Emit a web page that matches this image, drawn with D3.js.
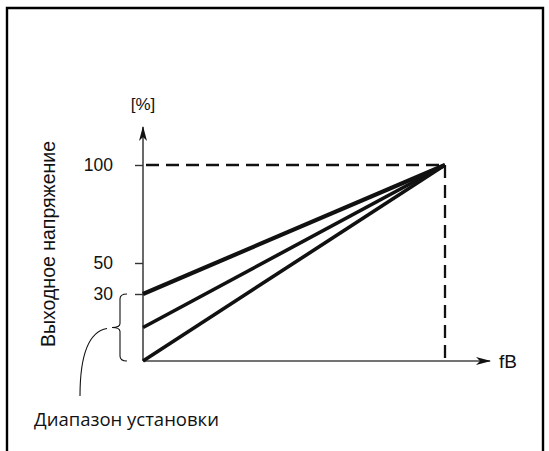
<!DOCTYPE html>
<html>
<head>
<meta charset="utf-8">
<script src="https://cdn.jsdelivr.net/npm/d3@7"></script>
<style>
  html, body { margin: 0; padding: 0; background: #fff; }
  svg { display: block; }
</style>
</head>
<body>
<svg id="chart" width="549" height="451"></svg>
<script>
// ---- data ----
const startLevels = [30, 15, 0];          // output voltage at f = 0 (%), setting range
const endLevel = 100;                     // output voltage at base frequency fB (%)
const freqPoints = [0, 1];                // 0 .. fB (relative)
const yTickValues = [30, 50, 100];
const yTickLabels = ["30", "50", "100"];
const yTitle = "Выходное напряжение";
const yUnit = "[%]";
const xTitle = "fB";
const rangeLabel = "Диапазон установки";

// ---- layout ----
const svg = d3.select("#chart");
const x0 = 143, xEnd = 445, xArrow = 490;
const yBase = 361, yArrow = 127;
const sans = "'Liberation Sans', Arial, Helvetica, sans-serif";

const x = d3.scaleLinear().domain([0, 1]).range([x0, xEnd]);
// schematic (non-uniform) vertical scale, as in the original drawing
const y = d3.scaleLinear().domain([0, 30, 50, 100]).range([yBase, 294, 263, 165]);

// frame
svg.append("path")
  .attr("d", `M7,451 L7,8 L543,8 L543,451`)
  .attr("fill", "none").attr("stroke", "#000").attr("stroke-width", 2.4);

// arrow marker
const defs = svg.append("defs");
defs.append("marker")
  .attr("id", "arr").attr("viewBox", "0 0 15 10").attr("refX", 14).attr("refY", 5)
  .attr("markerWidth", 15).attr("markerHeight", 10).attr("markerUnits", "userSpaceOnUse")
  .attr("orient", "auto")
  .append("path").attr("d", "M0,1 L15,5 L0,9 L4,5 Z").attr("fill", "#111");

// dashed guide lines
svg.append("line")
  .attr("x1", x(0)).attr("y1", y(endLevel)).attr("x2", x(1)).attr("y2", y(endLevel))
  .attr("stroke", "#111").attr("stroke-width", 2.3).attr("stroke-dasharray", "13,7")
  .attr("stroke-dashoffset", -3);
svg.append("line")
  .attr("x1", x(1)).attr("y1", y(endLevel)).attr("x2", x(1)).attr("y2", y(0))
  .attr("stroke", "#111").attr("stroke-width", 2.3).attr("stroke-dasharray", "13,7");

// axes lines with arrows
svg.append("line").attr("x1", x0).attr("y1", yBase).attr("x2", xArrow).attr("y2", yBase)
  .attr("stroke", "#444").attr("stroke-width", 1.6).attr("marker-end", "url(#arr)");
svg.append("line").attr("x1", x0).attr("y1", yBase).attr("x2", x0).attr("y2", yArrow)
  .attr("stroke", "#444").attr("stroke-width", 1.6).attr("marker-end", "url(#arr)");

// y ticks via d3 axis
const yAxis = d3.axisLeft(y)
  .tickValues(yTickValues)
  .tickFormat((d, i) => yTickLabels[i])
  .tickSize(8).tickPadding(22);
const gy = svg.append("g").attr("transform", `translate(${x0},0)`).call(yAxis);
gy.select(".domain").remove();
gy.selectAll(".tick line").attr("stroke", "#333").attr("stroke-width", 1.4);
gy.selectAll(".tick text")
  .attr("font-family", sans)
  .attr("font-size", 17.5).attr("fill", "#111");

// lines
const line = d3.line().x(d => x(d[0])).y(d => y(d[1]));
svg.append("g").selectAll("path")
  .data(startLevels)
  .join("path")
  .attr("d", s => line([[freqPoints[0], s], [freqPoints[1], endLevel]]))
  .attr("fill", "none").attr("stroke", "#111")
  .attr("stroke-width", (s, i) => i === 0 ? 4.2 : 3.6)
  .attr("stroke-linecap", "butt");

// labels
svg.append("text").attr("x", x0).attr("y", 110).attr("text-anchor", "middle")
  .attr("font-family", sans).attr("font-size", 17)
  .attr("fill", "#111").text(yUnit);
svg.append("text").attr("x", 499).attr("y", 368)
  .attr("font-family", sans).attr("font-size", 19)
  .attr("fill", "#111").text(xTitle);
svg.append("text")
  .attr("transform", "translate(55,244) rotate(-90)")
  .attr("text-anchor", "middle")
  .attr("font-family", sans).attr("font-size", 19.5)
  .attr("fill", "#111").text(yTitle);

// brace for setting range
const by0 = y(30), by1 = y(0), bm = (by0 + by1) / 2;
svg.append("path")
  .attr("d", `M127,${by0} Q120,${by0} 120,${by0 + 5} L120,${bm - 4} Q120,${bm} 112,${bm} Q120,${bm} 120,${bm + 4} L120,${by1 - 5} Q120,${by1} 127,${by1}`)
  .attr("fill", "none").attr("stroke", "#111").attr("stroke-width", 1.1);

// leader curve
svg.append("path")
  .attr("d", `M107,${bm + 1} C90,${bm + 4} 80,${bm + 25} 80,396`)
  .attr("fill", "none").attr("stroke", "#111").attr("stroke-width", 1.1);

svg.append("text").attr("x", 34).attr("y", 426)
  .attr("font-family", "'Open Sans', 'Noto Sans', sans-serif").attr("font-size", 18.5)
  .attr("fill", "#111").text(rangeLabel);
</script>
</body>
</html>
